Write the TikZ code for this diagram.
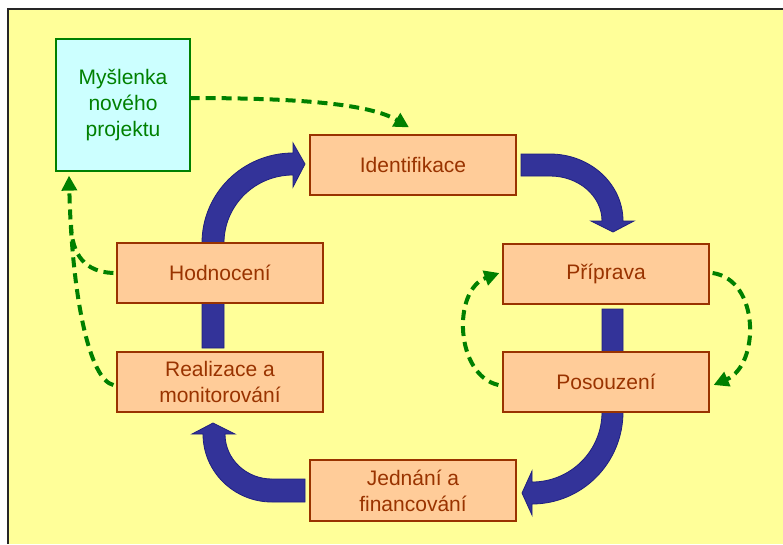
\documentclass[tikz,border=0pt]{standalone}
\usepackage{fontspec}
\setmainfont{Liberation Sans}
\usetikzlibrary{arrows.meta,calc}
\definecolor{bgyellow}{HTML}{FFFF99}
\definecolor{boxfill}{HTML}{FFCC99}
\definecolor{boxline}{HTML}{993300}
\definecolor{ideafill}{HTML}{CCFFFF}
\definecolor{ideagreen}{HTML}{008000}
\definecolor{bandblue}{HTML}{333399}
\definecolor{bandline}{HTML}{1F1F80}
\pgfdeclarelayer{bg}
\pgfsetlayers{bg,main}
\tikzset{
  stagebox/.style={draw=boxline, line width=1.2pt, fill=boxfill, text=boxline,
    minimum width=206pt, minimum height=60pt, inner sep=0pt, align=center,
    font=\fontsize{21}{26}\selectfont},
  ideabox/.style={draw=ideagreen, line width=1.2pt, fill=ideafill, text=ideagreen,
    minimum width=134pt, minimum height=132pt, inner sep=0pt, align=center,
    font=\fontsize{21}{26}\selectfont},
  band/.style={fill=bandblue, draw=bandline, line width=0.8pt, line join=miter},
  feedback/.style={draw=ideagreen, line width=4pt, dash pattern=on 10pt off 6pt,
    -{Triangle[length=15pt,width=15pt,fill=ideagreen]}},
}
\begin{document}
\begin{tikzpicture}[x=1pt,y=-1pt]
\useasboundingbox (0,0) rectangle (783,544);
% nodes
\node[ideabox] (myslenka) at (123,105) {Myšlenka\\nového\\projektu};
\node[stagebox] (ident) at (413,165) {Identifikace};
\node[stagebox] (priprava) at (606,274) {Příprava};
\node[stagebox] (posouzeni) at (606,382) {Posouzení};
\node[stagebox, minimum height=61pt] (jednani) at (413,490.5) {Jednání a\\financování};
\node[stagebox] (realizace) at (220,382) {Realizace a\\monitorování};
\node[stagebox] (hodnoceni) at (220,273) {Hodnocení};
\begin{pgfonlayer}{bg}
\fill[bgyellow] (7,9) rectangle (783,544);
\draw[line width=2pt, black!85] (8,544) -- (8,9) -- (783,9);
% Hodnoceni -> Identifikace
\path[band] (202,348) -- (202,243) .. controls (202,193.3) and (242.7,153) .. (293,153)
  -- (293,143) -- (305,164) -- (293,187) -- (293,175)
  .. controls (254.9,175) and (224,205.4) .. (224,243) -- (224,348) -- cycle;
% Identifikace -> Priprava
\path[band] (521,154) -- (550,154) .. controls (590.3,154) and (623,184) .. (623,221)
  -- (634,221) -- (613,232) -- (591,221) -- (602,221)
  .. controls (602,196.1) and (578.7,176) .. (550,176) -- (521,176) -- cycle;
% Priprava -> Posouzeni -> Jednani
\path[band] (602,309) -- (623,309) -- (623,412) .. controls (623,462.8) and (582.3,504) .. (532,504)
  -- (532,515) -- (522,493) -- (532,471) -- (532,482)
  .. controls (570.7,482) and (602,450.7) .. (602,412) -- cycle;
% Jednani -> Realizace
\path[band] (305,502) -- (272,502) .. controls (233.9,502) and (203,471.6) .. (203,434)
  -- (192,434) -- (213,423) -- (235,434) -- (225,434)
  .. controls (225,458.9) and (246,479) .. (272,479) -- (305,479) -- cycle;
\end{pgfonlayer}
% feedback dashed arrows
\draw[feedback] ($(myslenka.east)+(-1,-7)$) .. controls (300,98) and (370,104) .. ($(ident.north)+(-4,-7)$);
\draw[feedback] ($(posouzeni.west)+(-4,3)$) .. controls (455,375) and (452,290) .. ($(priprava.west)+(-3,-1)$);
\draw[feedback] ($(priprava.east)+(3,-1)$) .. controls (760,280) and (760,365) .. ($(posouzeni.east)+(4,3)$);
\draw[feedback] ($(realizace.west)+(-3,3)$) .. controls (90,380) and (72,300) .. ($(myslenka.south)+(-54,4)$);
\draw[feedback, -] ($(hodnoceni.west)+(-3,0)$) .. controls (85,272) and (72,255) .. (71,225);
\end{tikzpicture}
\end{document}
